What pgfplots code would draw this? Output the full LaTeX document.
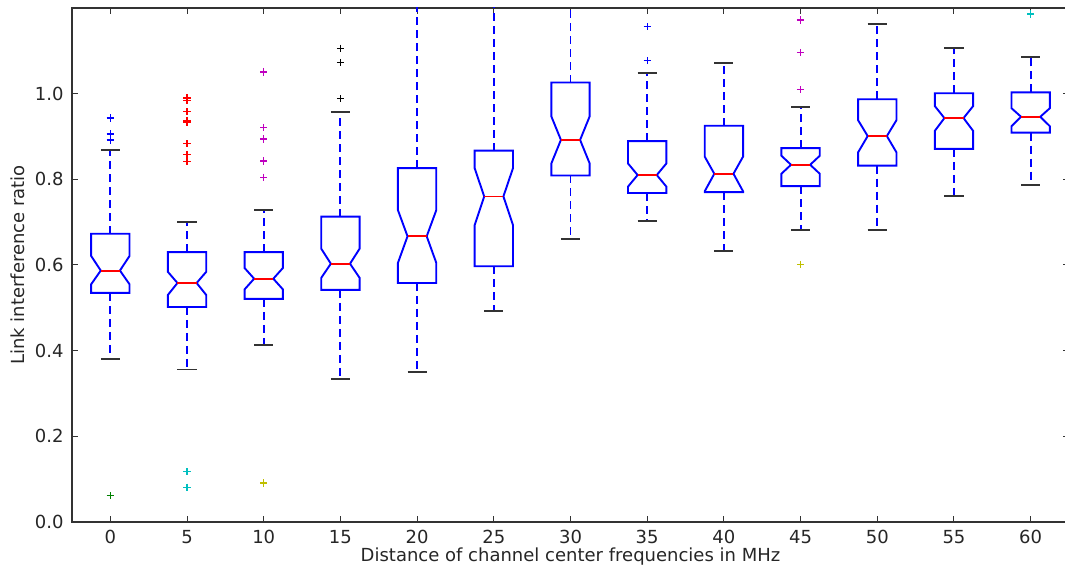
\documentclass[border=0pt]{standalone}
\usepackage{pgfplots}
\pgfplotsset{compat=1.18}
\usepackage{fontspec}
\setmainfont{DejaVu Sans}

\definecolor{mplb}{rgb}{0,0,1}
\definecolor{mplg}{rgb}{0,0.5,0}
\definecolor{mplr}{rgb}{1,0,0}
\definecolor{mplc}{rgb}{0,0.75,0.75}
\definecolor{mplm}{rgb}{0.75,0,0.75}
\definecolor{mply}{rgb}{0.75,0.75,0}

\pgfplotsset{
  whisk/.style={mplb, line width=0.95pt, dash pattern=on 4pt off 2.5pt, no marks},
  capline/.style={black!80, line width=0.95pt, no marks},
  boxline/.style={mplb, line width=0.95pt, no marks, line join=miter},
  medline/.style={mplr, line width=0.95pt, no marks},
  flier/.style={only marks, mark=+, mark size=1.8pt, mark options={line width=0.6pt}},
}

% Notched box: #1 position, #2 lower whisker, #3 Q1, #4 notch low,
% #5 median, #6 notch high, #7 Q3, #8 upper whisker
\newcommand{\notchbox}[8]{%
  \addplot[whisk] coordinates {(#1,#7) (#1,#8)};
  \addplot[whisk] coordinates {(#1,#3) (#1,#2)};
  \addplot[capline] table[row sep=crcr, x expr=#1+\thisrow{dx}, y=y]
    {dx y\\ -0.125 #8\\ 0.125 #8\\};
  \addplot[capline] table[row sep=crcr, x expr=#1+\thisrow{dx}, y=y]
    {dx y\\ -0.125 #2\\ 0.125 #2\\};
  \addplot[boxline] table[row sep=crcr, x expr=#1+\thisrow{dx}, y=y]
    {dx y\\ 0 #3\\ 0.25 #3\\ 0.25 #4\\ 0.125 #5\\ 0.25 #6\\ 0.25 #7\\ -0.25 #7\\
     -0.25 #6\\ -0.125 #5\\ -0.25 #4\\ -0.25 #3\\ 0 #3\\};
  \addplot[medline] table[row sep=crcr, x expr=#1+\thisrow{dx}, y=y]
    {dx y\\ -0.125 #5\\ 0.125 #5\\};
}

\begin{document}
\begin{tikzpicture}
\useasboundingbox (-36pt,-27pt) rectangle (496.5pt,261pt);
\clip (-36pt,-27pt) rectangle (496.5pt,261pt);
\begin{axis}[
  at={(0,0)}, anchor=south west,
  scale only axis, width=498.5pt, height=257pt,
  xmin=-0.5, xmax=12.5, ymin=0, ymax=1.2,
  xtick={0,1,2,3,4,5,6,7,8,9,10,11,12},
  xticklabels={0,5,10,15,20,25,30,35,40,45,50,55,60},
  ytick={0,0.2,0.4,0.6,0.8,1.0},
  yticklabels={0.0,0.2,0.4,0.6,0.8,1.0},
  /pgf/number format/assume math mode=true,
  tick align=inside, major tick length=3pt,
  every tick/.style={black!80, line width=0.5pt},
  axis line style={line width=1pt, black!80},
  tick label style={font=\fontsize{9pt}{11pt}\selectfont, text=black!85},
  label style={font=\fontsize{9pt}{11pt}\selectfont, text=black!85},
  xticklabel style={anchor=north, inner sep=0pt, yshift=-4pt},
  yticklabel style={anchor=east, inner sep=0pt, xshift=-4pt},
  xlabel={Distance of channel center frequencies in MHz},
  ylabel={Link interference ratio},
  xlabel style={at={([yshift=-20pt]axis description cs:0.5,0)}, anchor=base},
  ylabel style={at={([xshift=-23.5pt]axis description cs:0,0.5)}, anchor=base},
]
% pos, lower whisker, Q1, notch low, median, notch high, Q3, upper whisker
\notchbox{0}{0.381}{0.535}{0.555}{0.587}{0.621}{0.673}{0.868}
\notchbox{1}{0.356}{0.502}{0.530}{0.558}{0.584}{0.630}{0.700}
\notchbox{2}{0.413}{0.521}{0.543}{0.568}{0.593}{0.630}{0.729}
\notchbox{3}{0.333}{0.542}{0.570}{0.603}{0.638}{0.713}{0.958}
\notchbox{4}{0.350}{0.558}{0.605}{0.667}{0.728}{0.826}{1.300}
\notchbox{5}{0.493}{0.597}{0.693}{0.760}{0.826}{0.867}{1.300}
\notchbox{6}{0.660}{0.809}{0.837}{0.892}{0.947}{1.026}{1.300}
\notchbox{7}{0.702}{0.768}{0.783}{0.810}{0.837}{0.889}{1.048}
\notchbox{8}{0.632}{0.770}{0.772}{0.813}{0.853}{0.925}{1.072}
\notchbox{9}{0.681}{0.784}{0.813}{0.834}{0.855}{0.873}{0.968}
\notchbox{10}{0.681}{0.832}{0.863}{0.901}{0.938}{0.987}{1.162}
\notchbox{11}{0.761}{0.871}{0.913}{0.943}{0.971}{1.001}{1.106}
\notchbox{12}{0.786}{0.909}{0.924}{0.946}{0.966}{1.003}{1.086}
% outliers above and below the whiskers
\addplot[flier, mplb] coordinates {(0,0.943) (0,0.906) (0,0.892)};
\addplot[flier, mplg] coordinates {(0,0.061)};
\addplot[flier, mplr] coordinates {(1,0.990) (1,0.984) (1,0.958) (1,0.938) (1,0.934) (1,0.883) (1,0.858) (1,0.842)};
\addplot[flier, mplc] coordinates {(1,0.117) (1,0.081)};
\addplot[flier, mplm] coordinates {(2,1.052) (2,1.050) (2,0.921) (2,0.894) (2,0.843) (2,0.805)};
\addplot[flier, mply] coordinates {(2,0.091)};
\addplot[flier, black] coordinates {(3,1.106) (3,1.073) (3,0.988)};
\addplot[flier, mplb] coordinates {(7,1.156) (7,1.077)};
\addplot[flier, mplm] coordinates {(9,1.172) (9,1.096) (9,1.009)};
\addplot[flier, mply] coordinates {(9,0.601)};
\addplot[flier, mplc] coordinates {(12,1.186)};
\end{axis}
\end{tikzpicture}
\end{document}
